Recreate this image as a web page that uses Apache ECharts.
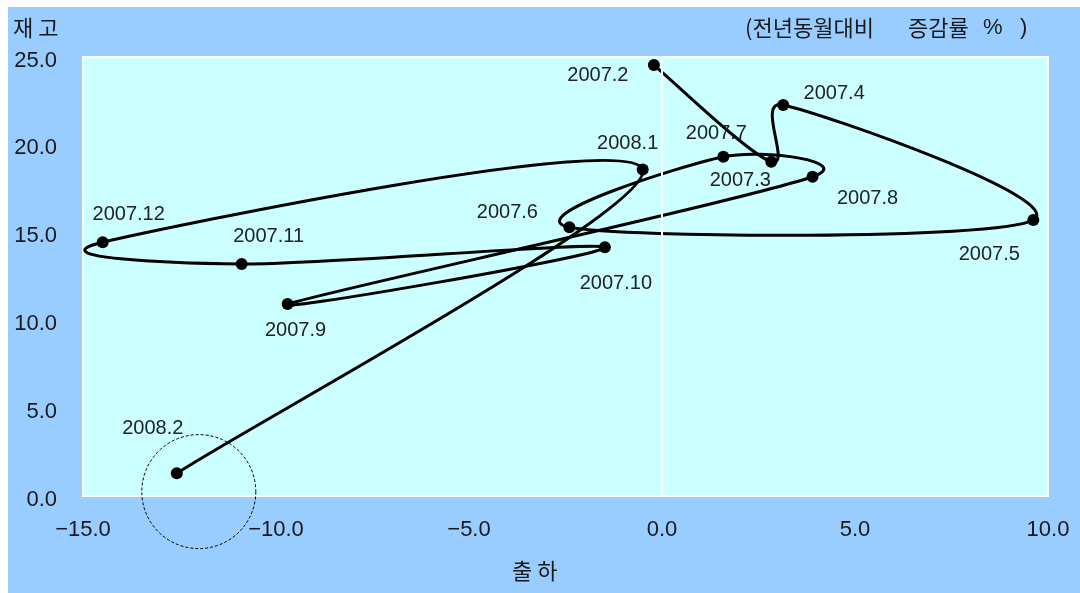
<!DOCTYPE html>
<html>
<head>
<meta charset="utf-8">
<script src="https://cdn.jsdelivr.net/npm/echarts@6/dist/echarts.min.js"></script>
<style>
  html, body { margin: 0; padding: 0; background: #ffffff; }
  #c { position: absolute; left: 8px; top: 7px; width: 1072px; height: 586px; }
</style>
</head>
<body>
<div id="c"></div>
<script>
// ---- data ----
const months = ['2007.2','2007.3','2007.4','2007.5','2007.6','2007.7','2007.8','2007.9','2007.10','2007.11','2007.12','2008.1','2008.2'];
const shipment = [-0.21, 2.83, 3.14, 9.62, -2.40, 1.59, 3.90, -9.70, -1.48, -10.89, -14.49, -0.50, -12.57];
const inventory = [24.54, 19.04, 22.27, 15.72, 15.30, 19.32, 18.18, 10.93, 14.16, 13.21, 14.45, 18.60, 1.29];
const xTicks = [-15, -10, -5, 0, 5, 10];
const yTicks = [0, 5, 10, 15, 20, 25];
const highlightCenter = [-12.0, 0.25];

// ---- label placement (style, not data) ----
const labelOffsets = [[-56,10],[-31,19],[51,-11],[-44,35],[-62,-15],[-7,-23],[55,22],[8,26],[11,36],[27,-28],[26,-28],[-15,-26],[-24,-45]];

const fmt = v => (v < 0 ? '\u2212' : '') + Math.abs(v).toFixed(1);
const latin = "'Liberation Sans', Arial, sans-serif";
const kor = "'Noto Sans CJK KR', sans-serif";
const points = shipment.map((x, i) => [x, inventory[i]]);

// Spreadsheet-style smoothed segment between point i and i+1, computed in pixel space
function renderSegment(params, api) {
  const i = params.dataIndex;
  const n = points.length;
  if (i >= n - 1) return null;
  const P = j => api.coord(points[Math.max(0, Math.min(n - 1, j))]);
  const p0 = P(i - 1), p1 = P(i), p2 = P(i + 1), p3 = P(i + 2);
  const d = (a, b) => Math.hypot(a[0] - b[0], a[1] - b[1]);
  const d12 = d(p1, p2), d02 = d(p0, p2), d13 = d(p1, p3);
  let f0 = 1 / 6, f1 = 1 / 6;
  if (d02 > 0 && d02 / 6 >= d12 / 2) f0 = d12 / d02 / 2;
  if (d13 > 0 && d13 / 6 >= d12 / 2) f1 = d12 / d13 / 2;
  return {
    type: 'bezierCurve',
    shape: {
      x1: p1[0], y1: p1[1], x2: p2[0], y2: p2[1],
      cpx1: p1[0] + f0 * (p2[0] - p0[0]), cpy1: p1[1] + f0 * (p2[1] - p0[1]),
      cpx2: p2[0] - f1 * (p3[0] - p1[0]), cpy2: p2[1] - f1 * (p3[1] - p1[1])
    },
    style: { stroke: '#000000', lineWidth: 3, fill: null, lineJoin: 'round', lineCap: 'round' }
  };
}

const chart = echarts.init(document.getElementById('c'), null, { renderer: 'canvas' });

const option = {
  backgroundColor: '#99CCFF',
  animation: false,
  grid: {
    left: 75, top: 50, width: 965, height: 439,
    show: true, backgroundColor: '#CCFFFF', borderColor: '#FFFFFF', borderWidth: 2
  },
  xAxis: {
    type: 'value', min: xTicks[0], max: xTicks[xTicks.length - 1], interval: 5,
    axisLine: { show: false }, axisTick: { show: false }, splitLine: { show: false },
    axisLabel: { formatter: fmt, color: '#1a1a1a', fontSize: 22, fontFamily: latin, margin: 23 }
  },
  yAxis: {
    type: 'value', min: yTicks[0], max: yTicks[yTicks.length - 1], interval: 5,
    axisLine: { show: false }, axisTick: { show: false }, splitLine: { show: false },
    axisLabel: { formatter: fmt, color: '#1a1a1a', fontSize: 22, fontFamily: latin, margin: 26, verticalAlign: 'top', lineHeight: 7 }
  },
  series: [
    {
      type: 'line', name: 'zero', data: [], z: 1, silent: true,
      markLine: {
        silent: true, symbol: 'none', label: { show: false },
        lineStyle: { color: '#FFFFFF', width: 2, type: 'solid' },
        data: [{ xAxis: 0 }]
      }
    },
    {
      type: 'custom', name: 'path', z: 2, silent: true,
      data: points, encode: { x: 0, y: 1 },
      renderItem: renderSegment
    },
    {
      type: 'scatter', name: 'months', z: 3,
      data: months.map((m, i) => ({ name: m, value: points[i], label: { offset: labelOffsets[i] } })),
      symbol: 'circle', symbolSize: 12,
      itemStyle: { color: '#000000', opacity: 1 },
      label: {
        show: true, position: 'inside', formatter: p => p.name,
        color: '#222222', fontSize: 20, fontFamily: latin
      }
    }
  ]
};
chart.setOption(option);

const center = chart.convertToPixel({ gridIndex: 0 }, highlightCenter);
chart.setOption({
  graphic: [
    {
      type: 'circle', z: 10, silent: true,
      shape: { cx: center[0], cy: center[1], r: 57 },
      style: { fill: 'none', stroke: '#000000', lineWidth: 1, lineDash: [3, 2] }
    },
    { type: 'text', x: 5, y: 20.5, style: { text: '재 고', fill: '#1a1a1a', font: '22px ' + kor, verticalAlign: 'middle' } },
    { type: 'text', x: 737, y: 21, style: { text: '(전년동월대비', fill: '#1a1a1a', font: '22px ' + kor, verticalAlign: 'middle' } },
    { type: 'text', x: 900, y: 21, style: { text: '증감률', fill: '#1a1a1a', font: '22px ' + kor, verticalAlign: 'middle' } },
    { type: 'text', x: 975, y: 21, style: { text: '%', fill: '#1a1a1a', font: '22px ' + latin, verticalAlign: 'middle' } },
    { type: 'text', x: 1012, y: 21, style: { text: ')', fill: '#1a1a1a', font: '22px ' + latin, verticalAlign: 'middle' } },
    { type: 'text', x: 504, y: 564, style: { text: '출 하', fill: '#1a1a1a', font: '22px ' + kor, verticalAlign: 'middle' } }
  ]
});
</script>
</body>
</html>
